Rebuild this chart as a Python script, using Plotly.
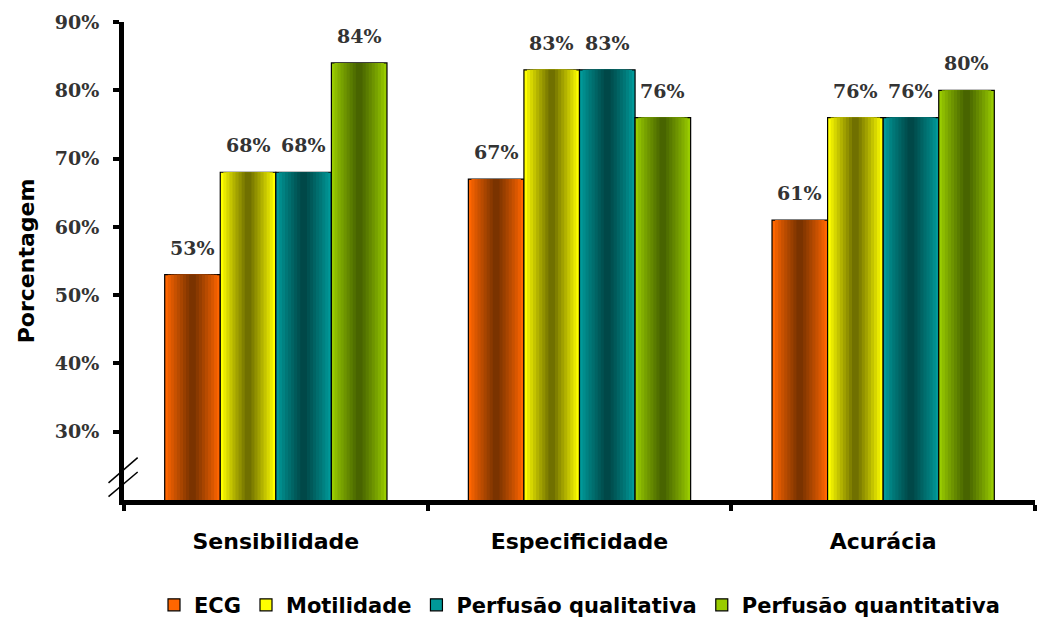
import plotly.graph_objects as go

categories = ["Sensibilidade", "Especificidade", "Acurácia"]
series_names = ["ECG", "Motilidade", "Perfusão qualitativa", "Perfusão quantitativa"]
ecg = [53, 67, 61]
motilidade = [68, 83, 76]
perf_qual = [68, 83, 76]
perf_quant = [84, 76, 80]
series_values = [ecg, motilidade, perf_qual, perf_quant]
y_ticks = [30, 40, 50, 60, 70, 80, 90]

# edge (bright) and centre (dark) colours for the cylinder-like shading
edge_colors = [(255, 102, 0), (255, 255, 0), (0, 153, 153), (153, 204, 0)]
dark_colors = [(122, 51, 0), (112, 112, 0), (0, 72, 72), (72, 100, 0)]

bar_w = 0.183
n_layers = 9

W, H = 1037, 618
M = dict(l=124, r=2, t=22, b=118)
px_per_cat = (W - M["l"] - M["r"]) / len(categories)

LABEL_FONT = dict(family="DejaVu Serif", size=19, color="#333333")


def mix(a, b, t):
    return "rgb(%d,%d,%d)" % tuple(round(a[i] + (b[i] - a[i]) * t) for i in range(3))


fig = go.Figure()
for i, (name, vals) in enumerate(zip(series_names, series_values)):
    centre = (i - 1.5) * bar_w
    for k in range(n_layers):
        t = k / (n_layers - 1)
        w = bar_w * (1 - 0.88 * t)
        outer = k == 0
        fig.add_trace(go.Bar(
            x=categories, y=vals,
            name="<b>%s</b>" % name,
            width=w, offset=centre - w / 2,
            marker=dict(color=mix(edge_colors[i], dark_colors[i], t ** 0.9),
                        line=dict(color="black", width=1.2 if outer else 0)),
            showlegend=outer, legendgroup=name,
            hoverinfo="x+y" if outer else "skip",
        ))
    # value labels above each bar
    for cat, v in zip(categories, vals):
        fig.add_annotation(x=cat, y=v, text="<b>%d%%</b>" % v,
                           showarrow=False, yanchor="bottom",
                           xshift=centre * px_per_cat, yshift=14,
                           font=LABEL_FONT)

# axis-break marks on the value axis
for y0, y1 in [(22.5, 26.2), (20.5, 24.1)]:
    fig.add_shape(type="line", xref="paper", yref="y",
                  x0=-0.017, x1=0.015, y0=y0, y1=y1,
                  line=dict(color="black", width=1.5))

fig.update_layout(
    width=W, height=H,
    margin=dict(**M, autoexpand=False),
    paper_bgcolor="white", plot_bgcolor="white",
    barmode="overlay",
    font=dict(family="DejaVu Sans", color="black"),
    legend=dict(orientation="h", x=0.5, xanchor="center", y=-0.22, yanchor="middle",
                font=dict(family="DejaVu Sans", size=21, color="black"),
                itemwidth=30, traceorder="normal"),
    xaxis=dict(showline=True, linecolor="black", linewidth=5, automargin=False,
               ticks="outside", tickson="boundaries", ticklen=6, tickwidth=4,
               tickcolor="black", ticklabelstandoff=18,
               tickvals=categories,
               ticktext=["<b>%s</b>" % c for c in categories],
               tickfont=dict(family="DejaVu Sans", size=22, color="black"),
               showgrid=False, zeroline=False),
    yaxis=dict(range=[20, 90], tickvals=y_ticks, automargin=False,
               ticktext=["<b>%d%%</b>" % v for v in y_ticks],
               showline=True, linecolor="black", linewidth=5,
               ticks="outside", ticklen=6, tickwidth=4, tickcolor="black",
               ticklabelstandoff=10,
               tickfont=LABEL_FONT,
               showgrid=False, zeroline=False,
               title=dict(text="<b>Porcentagem</b>", standoff=16,
                          font=dict(family="DejaVu Sans", size=22, color="black"))),
)

fig.write_html("out.html")
